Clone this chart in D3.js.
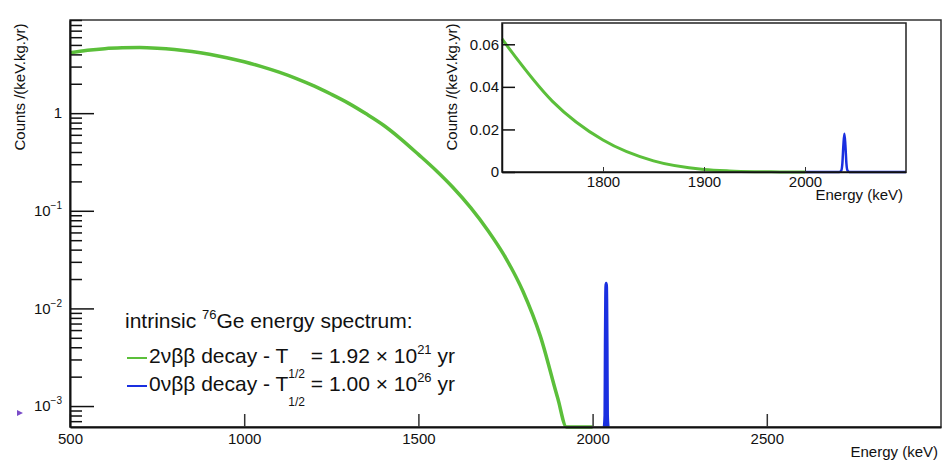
<!DOCTYPE html>
<html>
<head>
<meta charset="utf-8">
<script src="https://cdn.jsdelivr.net/npm/d3@7/dist/d3.min.js"></script>
<style>
  body { margin: 0; background: #fff; }
  svg { display: block; font-family: "Liberation Sans", Arial, Helvetica, sans-serif; }
  .tick text { fill: #111; }
</style>
</head>
<body>
<svg id="chart" width="942" height="464"></svg>
<script>
// 2vbb continuum (counts / keV.kg.yr)
const energy2nu = [500, 550, 600, 650, 700, 750, 800, 850, 900, 950, 1000, 1050, 1100, 1150, 1200, 1250,
    1300, 1350, 1400, 1450, 1500, 1550, 1600, 1650, 1700, 1750, 1800, 1850, 1900, 1925, 1950, 1975, 2000];
const counts2nu = [4.15, 4.40, 4.58, 4.67, 4.70, 4.63, 4.49, 4.28, 4.01, 3.70, 3.36, 3.00, 2.63, 2.26, 1.90, 1.56,
    1.26, 0.984, 0.752, 0.543, 0.378, 0.260, 0.172, 0.1076, 0.0625, 0.0332, 0.0150, 0.0052, 0.0012, 0.0005,
    0.00016, 0.00004, 0.00001];

// 0vbb line at Q = 2039 keV
const energy0nu = [2000, 2034, 2036, 2037, 2038, 2039, 2040, 2041, 2042, 2044, 2100];
const counts0nu = [0, 0, 0.0008, 0.004, 0.0125, 0.0180, 0.0125, 0.004, 0.0008, 0, 0];

const xTicksMain = [500, 1000, 1500, 2000, 2500];
const xTicksInset = [1800, 1900, 2000];
const yTicksInset = [0, 0.02, 0.04, 0.06];

const GREEN = '#5bbf3a';
const BLUE = '#1a2fe0';

function translate(x, y) {
    return `translate(${x}, ${y})`;
}

const svg = d3.select('#chart');
svg.append('rect').attr('width', 942).attr('height', 464).attr('fill', '#fff');

const data2nu = energy2nu.map((e, i) => ({ e, v: counts2nu[i] }));
const data0nu = energy0nu.map((e, i) => ({ e, v: counts0nu[i] }));

// ---------- main pad ----------
const main = { left: 70, right: 941, top: 20, bottom: 427 };
const yMin = 6.1e-4;
const x = d3.scaleLinear().domain([500, 3000]).range([main.left, main.right]);
const y = d3.scaleLog().domain([yMin, 9]).range([main.bottom, main.top]).clamp(true);

const lineMain = d3.line()
    .x(d => x(d.e))
    .y(d => y(Math.max(d.v, yMin)))
    .curve(d3.curveMonotoneX);

svg.append('path')
    .datum(data2nu)
    .attr('d', lineMain)
    .attr('fill', 'none')
    .attr('stroke', GREEN)
    .attr('stroke-width', 3.5);

// only the peak itself shows on the log plot (empty bins are not drawn)
const peak = data0nu.filter((d, i) =>
    d.v > 0 || (counts0nu[i - 1] > 0) || (counts0nu[i + 1] > 0));
svg.append('path')
    .datum(peak)
    .attr('d', lineMain)
    .attr('fill', 'none')
    .attr('stroke', BLUE)
    .attr('stroke-width', 3.5);

// frame
svg.append('rect')
    .attr('x', main.left).attr('y', main.top)
    .attr('width', main.right - main.left).attr('height', main.bottom - main.top)
    .attr('fill', 'none').attr('stroke', '#333').attr('stroke-width', 1.5);

// x axis
svg.append('g')
    .attr('class', 'x_axis')
    .attr('transform', translate(0, main.bottom))
    .call(d3.axisBottom(x)
        .tickValues(xTicksMain)
        .tickSizeInner(-13)
        .tickSizeOuter(0)
        .tickPadding(6)
        .tickFormat(d3.format('d')))
    .call(g => g.select('.domain').attr('stroke', '#111').attr('stroke-width', 2))
    .call(g => g.selectAll('.tick line').attr('stroke', '#333').attr('stroke-width', 1.5))
    .call(g => g.selectAll('text').attr('font-size', 15));

svg.append('text')
    .attr('x', 938).attr('y', 457)
    .attr('text-anchor', 'end')
    .attr('font-size', 15)
    .attr('fill', '#111')
    .text('Energy (keV)');

// y axis: minor ticks then decades
const allY = y.ticks();
const majorY = allY.filter(v => Math.abs(Math.log10(v) - Math.round(Math.log10(v))) < 1e-9);
const minorY = allY.filter(v => !majorY.includes(v));

svg.append('g')
    .attr('transform', translate(main.left, 0))
    .call(d3.axisLeft(y).tickValues(minorY).tickSizeInner(-12).tickSizeOuter(0).tickFormat(''))
    .call(g => g.select('.domain').remove())
    .call(g => g.selectAll('.tick line').attr('stroke', '#111').attr('stroke-width', 1.5));

svg.append('g')
    .attr('class', 'y_axis')
    .attr('transform', translate(main.left, 0))
    .call(d3.axisLeft(y).tickValues(majorY).tickSizeInner(-24).tickSizeOuter(0).tickPadding(8))
    .call(g => g.select('.domain').attr('stroke', '#111').attr('stroke-width', 2))
    .call(g => g.selectAll('.tick line').attr('stroke', '#111').attr('stroke-width', 1.5));

svg.selectAll('.y_axis .tick text')
    .attr('font-size', 15)
    .each((d, key, node) => {
        const self = d3.select(node[key]);
        const p = Math.round(Math.log10(d));
        if (p === 0) {
            self.text('1');
            return;
        }
        self.text('');
        self.append('tspan').text('10');
        self.append('tspan')
            .attr('font-size', 10)
            .attr('dy', -7)
            .text('\u2212' + (-p));
    });

svg.append('text')
    .attr('transform', translate(25, 87) + ' rotate(-90)')
    .attr('text-anchor', 'middle')
    .attr('font-size', 15)
    .attr('fill', '#111')
    .text('Counts /(keV.kg.yr)');

// little marker left of the 10^-3 label
svg.append('path')
    .attr('d', 'M17,410 L23,413 L17,416 Z')
    .attr('fill', '#7a4cc8');

// ---------- legend ----------
const legend = svg.append('g').attr('fill', '#111').attr('font-size', 21);

const head = legend.append('text').attr('x', 125).attr('y', 328);
head.append('tspan').text('intrinsic ');
head.append('tspan').attr('font-size', 13).attr('dy', -9).text('76');
head.append('tspan').attr('dy', 9).text('Ge energy spectrum:');

const entries = [
    { color: GREEN, label: '2\u03bd\u03b2\u03b2 decay - T', value: '= 1.92 \u00d7 10', exp: '21', base: 363 },
    { color: BLUE, label: '0\u03bd\u03b2\u03b2 decay - T', value: '= 1.00 \u00d7 10', exp: '26', base: 391 }
];
entries.forEach(en => {
    legend.append('line')
        .attr('x1', 127).attr('x2', 147)
        .attr('y1', en.base - 5).attr('y2', en.base - 5)
        .attr('stroke', en.color).attr('stroke-width', 2);
    const t = legend.append('text').attr('x', 149).attr('y', en.base);
    t.append('tspan').text(en.label);
    t.append('tspan').attr('font-size', 12).attr('dy', 15).text('1/2');
    t.append('tspan').attr('dy', -15).text(' ' + en.value);
    t.append('tspan').attr('font-size', 13).attr('dy', -9).text(en.exp);
    t.append('tspan').attr('dy', 9).text(' yr');
});

// ---------- inset pad ----------
const ins = { left: 502, right: 906, top: 23, bottom: 172 };
const xi = d3.scaleLinear().domain([1700, 2100]).range([ins.left, ins.right]);
const yi = d3.scaleLinear().domain([0, 0.07]).range([ins.bottom, ins.top]);

const lineInset = d3.line()
    .x(d => xi(d.e))
    .y(d => yi(d.v))
    .curve(d3.curveMonotoneX);

svg.append('path')
    .datum(data2nu.filter(d => d.e >= 1700))
    .attr('d', lineInset)
    .attr('fill', 'none')
    .attr('stroke', GREEN)
    .attr('stroke-width', 3);

svg.append('path')
    .datum(data0nu)
    .attr('d', lineInset)
    .attr('fill', 'none')
    .attr('stroke', BLUE)
    .attr('stroke-width', 2.5);

svg.append('rect')
    .attr('x', ins.left).attr('y', ins.top)
    .attr('width', ins.right - ins.left).attr('height', ins.bottom - ins.top)
    .attr('fill', 'none').attr('stroke', '#222').attr('stroke-width', 1.5);

svg.append('g')
    .attr('transform', translate(0, ins.bottom))
    .call(d3.axisBottom(xi).tickValues(xTicksInset).tickSizeInner(-5).tickSizeOuter(0).tickPadding(4)
        .tickFormat(d3.format('d')))
    .call(g => g.select('.domain').attr('stroke', '#111').attr('stroke-width', 1.5))
    .call(g => g.selectAll('.tick line').attr('stroke', '#333'))
    .call(g => g.selectAll('text').attr('font-size', 15));

svg.append('g')
    .attr('transform', translate(ins.left, 0))
    .call(d3.axisLeft(yi).tickValues(yTicksInset).tickSizeInner(-13).tickSizeOuter(0).tickPadding(3)
        .tickFormat(d => d === 0 ? '0' : d3.format('.2f')(d)))
    .call(g => g.select('.domain').attr('stroke', '#111').attr('stroke-width', 1.5))
    .call(g => g.selectAll('.tick line').attr('stroke', '#111').attr('stroke-width', 1.5))
    .call(g => g.selectAll('text').attr('font-size', 15));

svg.append('text')
    .attr('x', 903).attr('y', 200)
    .attr('text-anchor', 'end')
    .attr('font-size', 15)
    .attr('fill', '#111')
    .text('Energy (keV)');

svg.append('text')
    .attr('transform', translate(457, 87) + ' rotate(-90)')
    .attr('text-anchor', 'middle')
    .attr('font-size', 15)
    .attr('fill', '#111')
    .text('Counts /(keV.kg.yr)');
</script>
</body>
</html>
